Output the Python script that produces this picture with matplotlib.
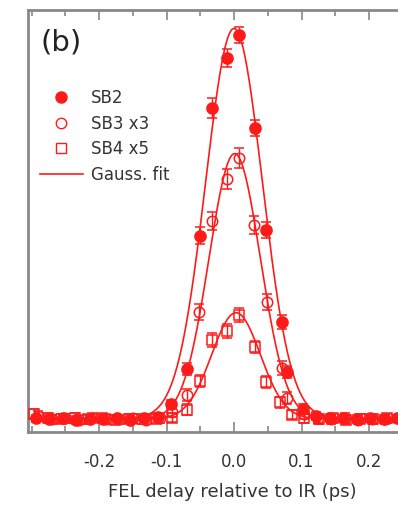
import matplotlib.pyplot as plt
import numpy as np
from matplotlib.lines import Line2D
from matplotlib.ticker import MultipleLocator

# SB2 sideband (filled circles)
sb2_delay = [-0.294, -0.274, -0.254, -0.234, -0.214, -0.194, -0.174, -0.154, -0.134, -0.113,
             -0.093, -0.070, -0.050, -0.033, -0.010, 0.007, 0.031, 0.047, 0.071, 0.079,
             0.102, 0.122, 0.142, 0.162, 0.182, 0.202, 0.222, 0.242]
sb2_signal = [0.004, 0.002, 0.006, 0.000, 0.003, 0.002, 0.004, 0.001, 0.005, 0.008,
              0.040, 0.131, 0.472, 0.800, 0.928, 0.987, 0.749, 0.487, 0.251, 0.123,
              0.028, 0.010, 0.006, 0.004, 0.002, 0.005, 0.003, 0.004]
sb2_err = [0.010, 0.010, 0.010, 0.010, 0.010, 0.010, 0.010, 0.010, 0.010, 0.010,
           0.012, 0.015, 0.022, 0.025, 0.024, 0.020, 0.020, 0.020, 0.018, 0.015,
           0.012, 0.010, 0.010, 0.010, 0.010, 0.010, 0.010, 0.010]

# SB3 x3 (open circles)
sb3_delay = [-0.290, -0.270, -0.250, -0.230, -0.210, -0.190, -0.170, -0.150, -0.130, -0.110,
             -0.092, -0.070, -0.052, -0.033, -0.010, 0.007, 0.030, 0.049, 0.071, 0.079,
             0.104, 0.124, 0.144, 0.164, 0.184, 0.204, 0.224]
sb3_signal = [0.010, 0.002, 0.004, 0.001, 0.006, 0.003, 0.002, 0.004, 0.001, 0.004,
              0.020, 0.064, 0.277, 0.510, 0.618, 0.672, 0.500, 0.303, 0.133, 0.056,
              0.015, 0.004, 0.002, 0.005, 0.001, 0.003, 0.002]
sb3_err = [0.012, 0.012, 0.012, 0.012, 0.012, 0.012, 0.012, 0.012, 0.012, 0.012,
           0.012, 0.015, 0.020, 0.024, 0.025, 0.026, 0.022, 0.020, 0.018, 0.015,
           0.012, 0.012, 0.012, 0.012, 0.012, 0.012, 0.012]

# SB4 x5 (open squares)
sb4_delay = [-0.296, -0.276, -0.256, -0.236, -0.216, -0.196, -0.176, -0.156, -0.136, -0.116,
             -0.092, -0.070, -0.051, -0.033, -0.010, 0.007, 0.031, 0.048, 0.068, 0.086,
             0.104, 0.126, 0.146, 0.166, 0.186, 0.206, 0.226]
sb4_signal = [0.015, 0.006, 0.003, 0.005, 0.002, 0.004, 0.001, 0.003, 0.002, 0.003,
              0.006, 0.026, 0.100, 0.205, 0.228, 0.270, 0.187, 0.097, 0.045, 0.014,
              0.004, 0.002, 0.004, 0.001, 0.003, 0.002, 0.004]
sb4_err = [0.012, 0.012, 0.012, 0.012, 0.012, 0.012, 0.012, 0.012, 0.012, 0.012,
           0.012, 0.014, 0.016, 0.018, 0.018, 0.018, 0.016, 0.016, 0.014, 0.012,
           0.012, 0.012, 0.012, 0.012, 0.012, 0.012, 0.012]

# Gaussian fit parameters: amplitude, centre (ps), sigma (ps), offset
fit_sb2 = (1.000, 0.000, 0.042, 0.004)
fit_sb3 = (0.680, 0.001, 0.038, 0.003)
fit_sb4 = (0.272, 0.003, 0.036, 0.003)

RED = "#ff1a1a"
TEXT = "#333333"
SPINE = "#888888"

fig = plt.figure(figsize=(3.98, 5.05), dpi=100)
ax = fig.add_axes([28 / 398, 1 - 432 / 505, (436.5 - 28) / 398, 422 / 505])

t = np.linspace(-0.32, 0.32, 600)
for amp, x0, sig, off in (fit_sb2, fit_sb3, fit_sb4):
    ax.plot(t, amp * np.exp(-(t - x0) ** 2 / (2 * sig ** 2)) + off, color=RED, lw=1.2, zorder=2)

common = dict(ls="none", ecolor=RED, elinewidth=1.0, capsize=3.5, capthick=1.0,
              markeredgecolor=RED, markeredgewidth=1.1, zorder=3)
ax.errorbar(sb4_delay, sb4_signal, yerr=sb4_err, fmt="s", ms=7, mfc="none", **common)
ax.errorbar(sb3_delay, sb3_signal, yerr=sb3_err, fmt="o", ms=7.5, mfc="none", **common)
ax.errorbar(sb2_delay, sb2_signal, yerr=sb2_err, fmt="o", ms=8, mfc=RED, **common)

ax.set_xlim(-0.3052, 0.30)
ax.set_ylim(-0.0308, 1.0513)

ax.xaxis.set_major_locator(MultipleLocator(0.1))
ax.xaxis.set_minor_locator(MultipleLocator(0.05))
ax.tick_params(axis="x", which="both", direction="in", top=True, bottom=True,
               color=SPINE, labelcolor=TEXT, labelsize=12, pad=15)
ax.tick_params(axis="x", which="major", length=7, width=1.2)
ax.tick_params(axis="x", which="minor", length=4, width=1.2)
ax.set_xticks([-0.2, -0.1, 0.0, 0.1, 0.2])
ax.set_xticklabels(["-0.2", "-0.1", "0.0", "0.1", "0.2"])
ax.set_yticks([])
for side in ("left", "top", "bottom"):
    ax.spines[side].set_color(SPINE)
    ax.spines[side].set_linewidth(2)
ax.spines["right"].set_visible(False)

ax.set_xlabel("FEL delay relative to IR (ps)", fontsize=13, color=TEXT, labelpad=9)

ax.text(0.03, 0.955, "(b)", transform=ax.transAxes, fontsize=21, color="#222222",
        va="top", ha="left")

handles = [
    Line2D([], [], ls="none", marker="o", ms=8, mfc=RED, mec=RED),
    Line2D([], [], ls="none", marker="o", ms=7.5, mfc="none", mec=RED),
    Line2D([], [], ls="none", marker="s", ms=7, mfc="none", mec=RED),
    Line2D([], [], color=RED, lw=1.2),
]
labels = ["SB2", "SB3 x3", "SB4 x5", "Gauss. fit"]
ax.legend(handles, labels, loc="upper left", bbox_to_anchor=(0.0, 0.84), frameon=False,
          fontsize=12, handlelength=2.6, handletextpad=0.5, labelspacing=0.45,
          borderaxespad=0.3, labelcolor=TEXT)

fig.savefig("out.png", dpi=100)
